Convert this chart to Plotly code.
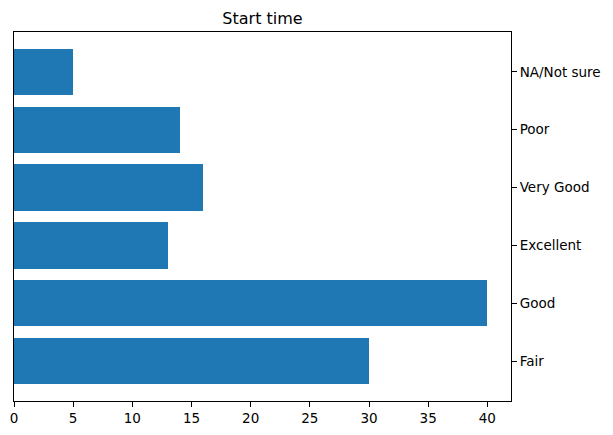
import plotly.graph_objects as go

categories = ["Fair", "Good", "Excellent", "Very Good", "Poor", "NA/Not sure"]
counts = [30, 40, 13, 16, 14, 5]
x_ticks = [0, 5, 10, 15, 20, 25, 30, 35, 40]

# page body has an 8px margin, so the figure is offset by 8px
W, H = 605, 427
fig = go.Figure(go.Bar(
    x=counts, y=categories, orientation="h", width=0.8,
    marker=dict(color="#1f77b4", line=dict(width=0)),
))

fig.update_layout(
    width=W, height=H,
    margin=dict(l=6, r=102, t=24, b=34, autoexpand=False),
    paper_bgcolor="white", plot_bgcolor="white",
    font=dict(family="DejaVu Sans", size=13.5, color="black"),
    title=dict(text="Start time", x=(6 + 503) / 2 / W, xanchor="center",
               y=1 - 10 / H, yanchor="middle", font=dict(size=16),
               automargin=False),
    showlegend=False,
    bargap=0,
)
fig.update_xaxes(
    range=[0, 42], tickvals=x_ticks, ticks="outside", ticklen=5, tickwidth=1,
    tickcolor="black", showline=True, linecolor="black", linewidth=1,
    mirror=True, showgrid=False, zeroline=False, automargin=False,
)
fig.update_yaxes(
    type="category", categoryorder="array", categoryarray=categories,
    range=[-0.69, 5.69], side="right", ticks="outside", ticklen=5, tickwidth=1,
    tickcolor="black", showline=True, linecolor="black", linewidth=1,
    mirror=True, showgrid=False, zeroline=False, automargin=False,
)

fig.write_html("out.html")
